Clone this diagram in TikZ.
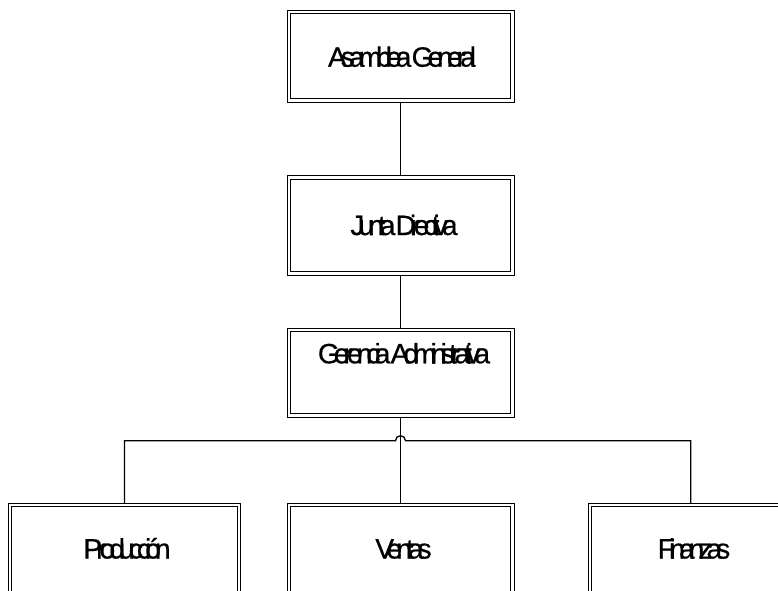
\documentclass[tikz,border=0pt]{standalone}
\usepackage{fontspec}
\newfontfamily\orgfont[LetterSpace=-21, WordSpace=0.15, FakeBold=0.6]{Liberation Sans}
\begin{document}
\begin{tikzpicture}[x=1pt,y=-1pt,
  unitbox/.style={draw, line width=0.9pt, inner sep=0pt, rectangle, anchor=center},
  innerframe/.style={line width=1pt},
  unitlabel/.style={anchor=base, inner sep=0pt, font=\orgfont\fontsize{28}{32}\selectfont},
  link/.style={line width=0.9pt},
  bus/.style={line width=1.3pt}]
\useasboundingbox (0,0) rectangle (778,590);
\clip (0,0) rectangle (778,590);

% governing bodies (outer frame)
\node[unitbox, minimum width=227pt, minimum height=92.3pt] (asamblea) at (400.5,56.2) {};
\node[unitbox, minimum width=227pt, minimum height=99.3pt] (junta) at (400.5,225.4) {};
\node[unitbox, minimum width=227pt, minimum height=89pt] (gerencia) at (400.5,372.5) {};

% departments (running past the lower edge)
\node[unitbox, minimum width=232.4pt, minimum height=200pt] (produccion) at (124.5,603.3) {};
\node[unitbox, minimum width=227pt, minimum height=200pt] (ventas) at (400.5,603.3) {};
\node[unitbox, minimum width=205.4pt, minimum height=200pt] (finanzas) at (690.7,603.3) {};

% inner frame of every box
\foreach \b in {asamblea,junta,gerencia,produccion,ventas,finanzas}
  \draw[innerframe] ([shift={(4pt,-4pt)}]\b.north west)
    rectangle ([shift={(-4pt,4pt)}]\b.south east);

% labels
\node[unitlabel] (tA) at (402,66.7) {Asamblea General};
\node[unitlabel] (tJ) at (404,235) {Junta Directiva};
\node[unitlabel] (tG) at (404,363.3) {Gerencia Administrativa};
\node[unitlabel] (tP) at (127,558.5) {Producción};
\node[unitlabel] (tV) at (403.5,558.5) {Ventas};
\node[unitlabel] (tF) at (694,558.5) {Finanzas};

% chain of command
\draw[link] (asamblea.south) -- (junta.north);
\draw[link] (junta.south) -- (gerencia.north);
\draw[link] (gerencia.south) -- (ventas.north);

% branch line with a hop over the vertical link
\coordinate (hop) at (400.5,440.7);
\draw[bus] (produccion.north) -- (produccion.north |- hop)
  -- ([xshift=-5pt]hop) arc[start angle=180, end angle=0, radius=5pt]
  -- (finanzas.north |- hop) -- (finanzas.north);
\end{tikzpicture}
\end{document}
